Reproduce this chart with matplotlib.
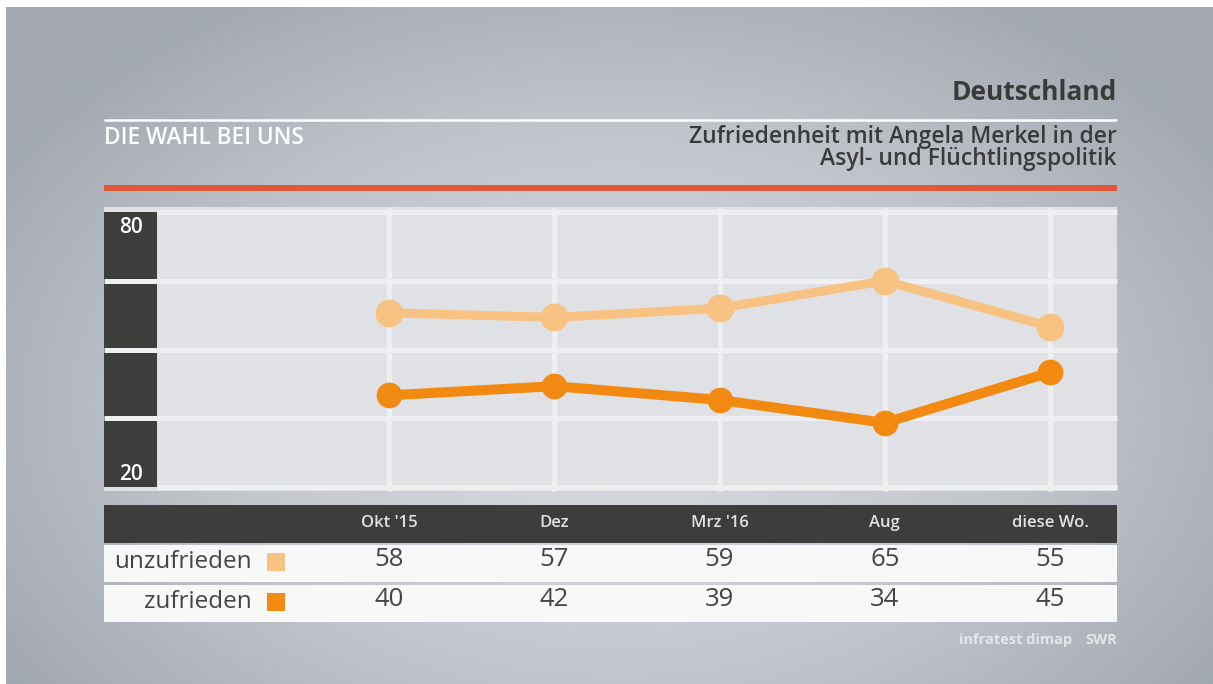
import numpy as np
import matplotlib
matplotlib.use("Agg")
import matplotlib.pyplot as plt
from matplotlib.patches import Rectangle
from matplotlib.transforms import blended_transform_factory

# Data
categories = ["Okt '15", "Dez", "Mrz '16", "Aug", "diese Wo."]
unzufrieden = [58, 57, 59, 65, 55]
zufrieden = [40, 42, 39, 34, 45]
series_labels = ["unzufrieden", "zufrieden"]
y_ticks = [20, 35, 50, 65, 80]

LIGHT = "#f8c282"
DARK = "#f28a12"
GRID = "#edeff1"
BAR = "#3d3d3b"
TEXT = "#444444"

plt.rcParams["font.family"] = ["Open Sans", "DejaVu Sans"]

W, H = 1213, 684
fig = plt.figure(figsize=(W / 100, H / 100), dpi=100, facecolor="white")


def px_axes(x0, y0, x1, y1):
    """Axes placed by pixel box (top-left origin)."""
    return fig.add_axes([x0 / W, 1 - y1 / H, (x1 - x0) / W, (y1 - y0) / H])


# Background with a soft radial gradient
bg = fig.add_axes([0, 0, 1, 1])
yy, xx = np.mgrid[0:H, 0:W]
r = np.sqrt(((xx - 610) / 720.0) ** 2 + ((yy - 400) / 480.0) ** 2)
t = np.clip(1 - r ** 1.6, 0, 1)
edge = np.array([162, 168, 177]) / 255.0
center = np.array([214, 217, 222]) / 255.0
img = edge + (center - edge) * t[..., None]
bg.imshow(img, extent=(6, W + 6, H + 6, 7), aspect="auto", zorder=0)
bg.set_xlim(0, W)
bg.set_ylim(H, 0)
bg.axis("off")

# Header
bg.text(1117, 93, "Deutschland", ha="right", va="center", fontsize=19,
        fontweight="bold", color="#3a3a3a")
bg.plot([104, 1117], [119.5, 119.5], color="white", lw=1.8,
        solid_capstyle="butt")
bg.text(104, 138, "DIE WAHL BEI UNS", ha="left", va="center", fontsize=16.3,
        fontweight="semibold", color="white")
bg.text(1117, 137, "Zufriedenheit mit Angela Merkel in der", ha="right",
        va="center", fontsize=16.5, fontweight="semibold", color="#3a3a3a")
bg.text(1117, 159, "Asyl- und Flüchtlingspolitik", ha="right", va="center",
        fontsize=16.5, fontweight="semibold", color="#3a3a3a")
bg.add_patch(Rectangle((104, 185), 1013, 6, color="#e0573a", lw=0))

# Plot area background
bg.add_patch(Rectangle((104, 207), 1013, 284, color="#dfe1e5", lw=0, zorder=1))

# Dark y-axis bar
bar = px_axes(104, 212, 157, 487)
bar.set_facecolor(BAR)
bar.set_xlim(0, 1)
bar.set_ylim(20, 80)
for s in bar.spines.values():
    s.set_visible(False)
bar.set_xticks([])
bar.set_yticks([])
for v in y_ticks[1:-1]:
    bar.axhline(v, color=GRID, lw=3.6, solid_capstyle="butt")
bar.text(0.5, 0.945, str(y_ticks[-1]), transform=bar.transAxes, ha="center",
         va="center", color="white", fontsize=15, fontweight="semibold")
bar.text(0.5, 0.045, str(y_ticks[0]), transform=bar.transAxes, ha="center",
         va="center", color="white", fontsize=15, fontweight="semibold")

# Main chart
ax = px_axes(157, 212, 1117, 487)
ax.patch.set_alpha(0)
for s in ax.spines.values():
    s.set_visible(False)
x = np.arange(len(categories))
step = (1050 - 389) / 4.0
ax.set_xlim(-(389 - 157) / step, 4 + (1117 - 1050) / step)
ax.set_ylim(20, 80)
ax.set_xticks([])
ax.set_yticks([])
for v in y_ticks:
    ax.axhline(v, color=GRID, lw=3.6, clip_on=False, zorder=1,
               solid_capstyle="butt")
for xi in x:
    ax.plot([xi, xi], [80.8, 19.2], color=GRID, lw=3.6, clip_on=False,
            zorder=1, solid_capstyle="butt")
ax.plot(x, unzufrieden, color=LIGHT, lw=6.5, marker="o", markersize=19,
        solid_capstyle="round", clip_on=False, zorder=3)
ax.plot(x, zufrieden, color=DARK, lw=7.2, marker="o", markersize=17.5,
        solid_capstyle="round", clip_on=False, zorder=4)

# Table
bg.add_patch(Rectangle((104, 505), 1013, 38, color=BAR, lw=0))
bg.add_patch(Rectangle((104, 545), 1013, 37, color="#f8f8f8", lw=0))
bg.add_patch(Rectangle((104, 585), 1013, 37, color="#f8f8f8", lw=0))
tr = blended_transform_factory(ax.transData, bg.transData)
for i, cat in enumerate(categories):
    bg.text(i, 523, cat, transform=tr, ha="center", va="center", fontsize=12,
            fontweight="semibold", color="#e2e2e2")
    bg.text(i, 560, str(unzufrieden[i]), transform=tr, ha="center",
            va="center", fontsize=18.5, color=TEXT)
    bg.text(i, 600, str(zufrieden[i]), transform=tr, ha="center",
            va="center", fontsize=18.5, color=TEXT)

for row_y, label, col in [(562, series_labels[0], LIGHT),
                          (602, series_labels[1], DARK)]:
    bg.text(252, row_y, label, ha="right", va="center", fontsize=17.5,
            color=TEXT)
    bg.add_patch(Rectangle((267, row_y - 9), 18, 18, color=col, lw=0))

# Footer
bg.text(1072, 640, "infratest dimap", ha="right", va="center", fontsize=10.5,
        fontweight="bold", color="#e4e6ea")
bg.text(1117, 640, "SWR", ha="right", va="center", fontsize=10.5,
        fontweight="bold", color="#e4e6ea")

fig.savefig("out.png", dpi=100, facecolor=fig.get_facecolor())
